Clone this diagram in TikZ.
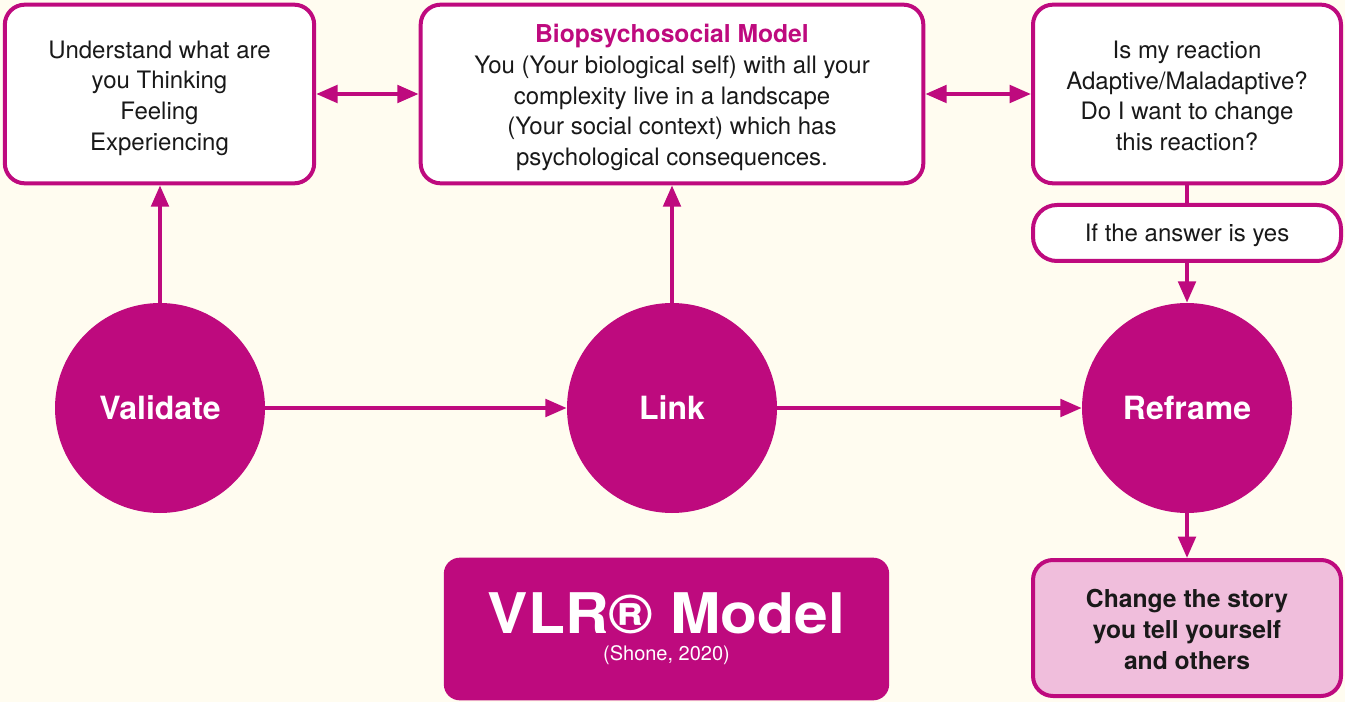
\documentclass[tikz,border=0pt]{standalone}
\usepackage{fontspec}
\setmainfont{TeX Gyre Heros}
\newfontfamily\widefont[FakeStretch=1.08]{TeX Gyre Heros}
\usetikzlibrary{arrows.meta}

\definecolor{vlrmagenta}{HTML}{BE0A7E}
\definecolor{vlrcream}{HTML}{FFFCF0}
\definecolor{vlrpink}{HTML}{F0BEDC}

\tikzset{
  box/.style={draw=vlrmagenta, line width=3pt, fill=white, rounded corners=15pt,
    align=center, inner sep=0pt, text=black!90,
    font=\fontsize{18}{23}\selectfont},
  hub/.style={circle, fill=vlrmagenta, minimum size=157.5pt, inner sep=0pt,
    text=white, font=\fontsize{24}{28}\selectfont\bfseries},
  link/.style={draw=vlrmagenta, line width=3pt},
  flow/.style={link, -{Triangle[length=16pt,width=13pt]}},
  twoway/.style={link, {Triangle[length=16pt,width=13pt]}-{Triangle[length=16pt,width=13pt]}}
}

\begin{document}
\begin{tikzpicture}[x=0.75pt, y=-0.75pt]

    % === Page ===
    \fill[vlrcream] (0,0) rectangle (1345,702);

    % === Top boxes ===
    \node[box, minimum width=232pt, minimum height=134pt] (understand) at (159.5,94)
        {\rule{0pt}{19pt}Understand what are\\you Thinking\\Feeling\\Experiencing};
    \node[box, minimum width=377pt, minimum height=134pt] (bio) at (672,94)
        {\rule{0pt}{19pt}{\fontsize{18.5}{23}\selectfont\bfseries\color{vlrmagenta}Biopsychosocial Model}\\
         You (Your biological self) with all your\\
         complexity live in a landscape\\
         (Your social context) which has\\
         psychological consequences.};
    \node[box, minimum width=231pt, minimum height=134pt] (question) at (1187,94)
        {\rule{0pt}{16pt}Is my reaction\\Adaptive/Maladaptive?\\Do I want to change\\this reaction?};
    \node[box, rounded corners=18pt, minimum width=231pt, minimum height=42pt] (ifyes) at (1187,233)
        {\rule{0pt}{16pt}If the answer is yes};

    % === Steps ===
    \node[hub] (validate) at (160,408) {Validate};
    \node[hub] (linkstep) at (672,408) {Link};
    \node[hub] (reframe) at (1187,408) {Reframe};

    % === Bottom boxes ===
    \node[box, fill=vlrpink, minimum width=231pt, minimum height=102pt,
          font=\fontsize{18.5}{23}\selectfont\bfseries] (change) at (1187,628)
        {\rule{0pt}{16pt}Change the story\\you tell yourself\\and others};
    \node[fill=vlrmagenta, rounded corners=12pt, minimum width=334pt, minimum height=107pt,
          align=center, text=white, inner sep=0pt,
          font=\fontsize{42}{20}\selectfont\widefont\bfseries] (title) at (666.5,629)
        {VLR® Model\\
         {\fontsize{15}{17}\selectfont\mdseries\setmainfont{TeX Gyre Heros}(Shone, 2020)}};

    % === Connectors ===
    \draw[twoway] (understand.east) -- (bio.west);
    \draw[twoway] (bio.east) -- (question.west);
    \draw[flow] (validate) -- (linkstep);
    \draw[flow] (linkstep) -- (reframe);
    \draw[flow] (validate.north) -- (validate.north |- understand.south);
    \draw[flow] (linkstep.north) -- (bio.south);
    \draw[link] (question.south) -- (ifyes.north);
    \draw[flow] (ifyes.south) -- (reframe.north);
    \draw[flow] (reframe.south) -- (change.north);

\end{tikzpicture}
\end{document}
